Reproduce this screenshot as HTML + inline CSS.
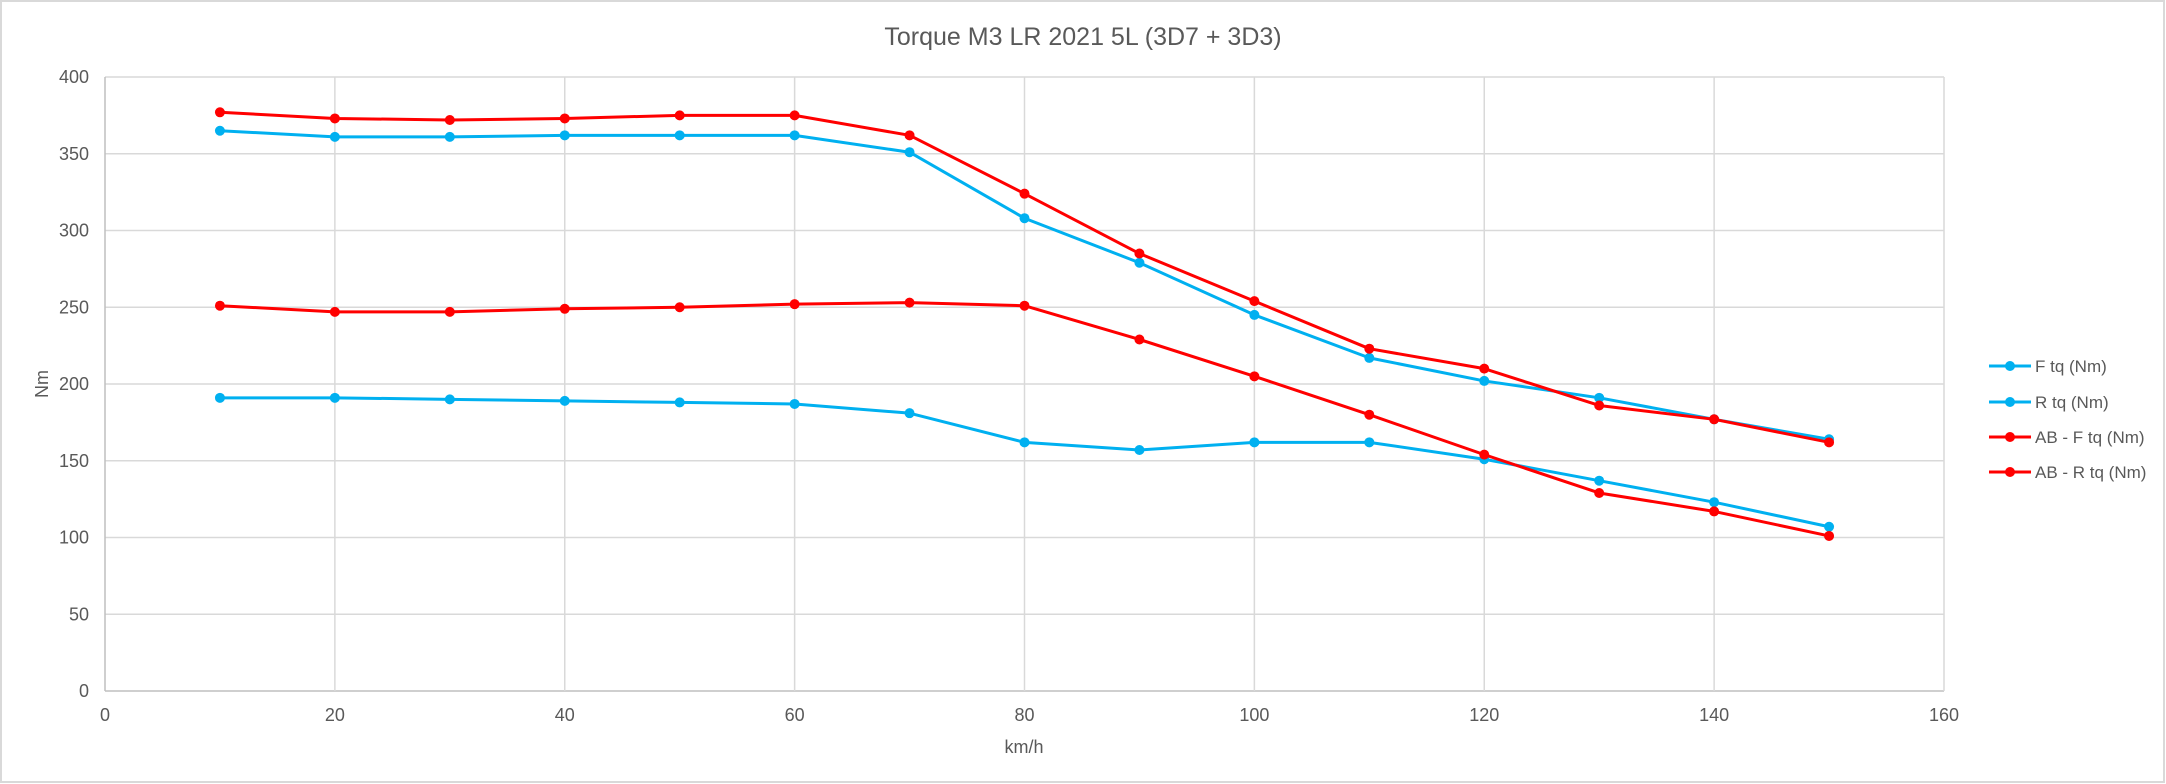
<!DOCTYPE html>
<html><head><meta charset="utf-8"><style>
html,body{margin:0;padding:0;background:#fff;}
svg{display:block;font-family:"Liberation Sans",sans-serif;}
</style></head><body>
<svg id="chart" width="2166" height="784" viewBox="0 0 2166 784">
<rect x="1" y="1" width="2163" height="781" fill="#fff" stroke="#d9d9d9" stroke-width="2"/>
<text x="1083" y="45" text-anchor="middle" font-size="25" fill="#595959">Torque M3 LR 2021 5L (3D7 + 3D3)</text>
<g id="grid"></g><g id="axes"></g><g id="series"></g>
<text x="1024" y="753" text-anchor="middle" font-size="18" fill="#595959">km/h</text>
<text transform="translate(48,384) rotate(-90)" text-anchor="middle" font-size="18" fill="#595959">Nm</text>
<g id="legend"></g>
</svg>
<script>
const xs = [10,20,30,40,50,60,70,80,90,100,110,120,130,140,150];
const fTq = [365,361,361,362,362,362,351,308,279,245,217,202,191,177,164];
const rTq = [191,191,190,189,188,187,181,162,157,162,162,151,137,123,107];
const abFTq = [377,373,372,373,375,375,362,324,285,254,223,210,186,177,162];
const abRTq = [251,247,247,249,250,252,253,251,229,205,180,154,129,117,101];
const xTicks = [0,20,40,60,80,100,120,140,160];
const yTicks = [0,50,100,150,200,250,300,350,400];
const seriesNames = ["F tq (Nm)","R tq (Nm)","AB - F tq (Nm)","AB - R tq (Nm)"];
const NS="http://www.w3.org/2000/svg";
const L=105,R=1944,T=77,B=691;
const X=v=>L+(v-0)/(160-0)*(R-L);
const Y=v=>B-(v-0)/(400-0)*(B-T);
function mk(tag,attrs,parent){const e=document.createElementNS(NS,tag);for(const k in attrs)e.setAttribute(k,attrs[k]);parent.appendChild(e);return e;}
const grid=document.getElementById('grid'),axes=document.getElementById('axes');
yTicks.forEach(t=>{
 const l=mk('line',{x1:L,x2:R,y1:Y(t),y2:Y(t),stroke:t===0?'#bfbfbf':'#d9d9d9','stroke-width':1.5},grid);
 
 
 const tx=mk('text',{x:L-16,y:Y(t)+6,'text-anchor':'end','font-size':18,fill:'#595959'},axes);
 tx.textContent=t;
 
 
});
xTicks.forEach(t=>{
 const l=mk('line',{x1:X(t),x2:X(t),y1:T,y2:B,stroke:t===0?'#bfbfbf':'#d9d9d9','stroke-width':1.5},grid);
 
 
 const tx=mk('text',{x:X(t),y:B+30,'text-anchor':'middle','font-size':18,fill:'#595959'},axes);
 tx.textContent=t;
 
 
});
const data=[fTq,rTq,abFTq,abRTq];
const colors=['#00b0f0','#00b0f0','#ff0000','#ff0000'];
const sg=document.getElementById('series');
data.forEach((d,i)=>{
 const g=mk('g',{},sg);
 
 
 const p=mk('polyline',{points:d.map((v,j)=>X(xs[j])+','+Y(v)).join(' '),fill:'none',stroke:colors[i],'stroke-width':3,'stroke-linejoin':'round'},g);
 
 
 d.forEach((v,j)=>{
  const c=mk('circle',{cx:X(xs[j]),cy:Y(v),r:5,fill:colors[i]},g);
  
  
 });
});
const lg=document.getElementById('legend');
const ly=[366,402,437,472];
seriesNames.forEach((n,i)=>{
 const g=mk('g',{},lg);
 
 
 mk('line',{x1:1989,x2:2031,y1:ly[i],y2:ly[i],stroke:colors[i],'stroke-width':3},g);
 mk('circle',{cx:2010,cy:ly[i],r:5,fill:colors[i]},g);
 const t=mk('text',{x:2035,y:ly[i]+6,'font-size':17,fill:'#595959'},g);
 t.textContent=n;
});
</script>
</body></html>
